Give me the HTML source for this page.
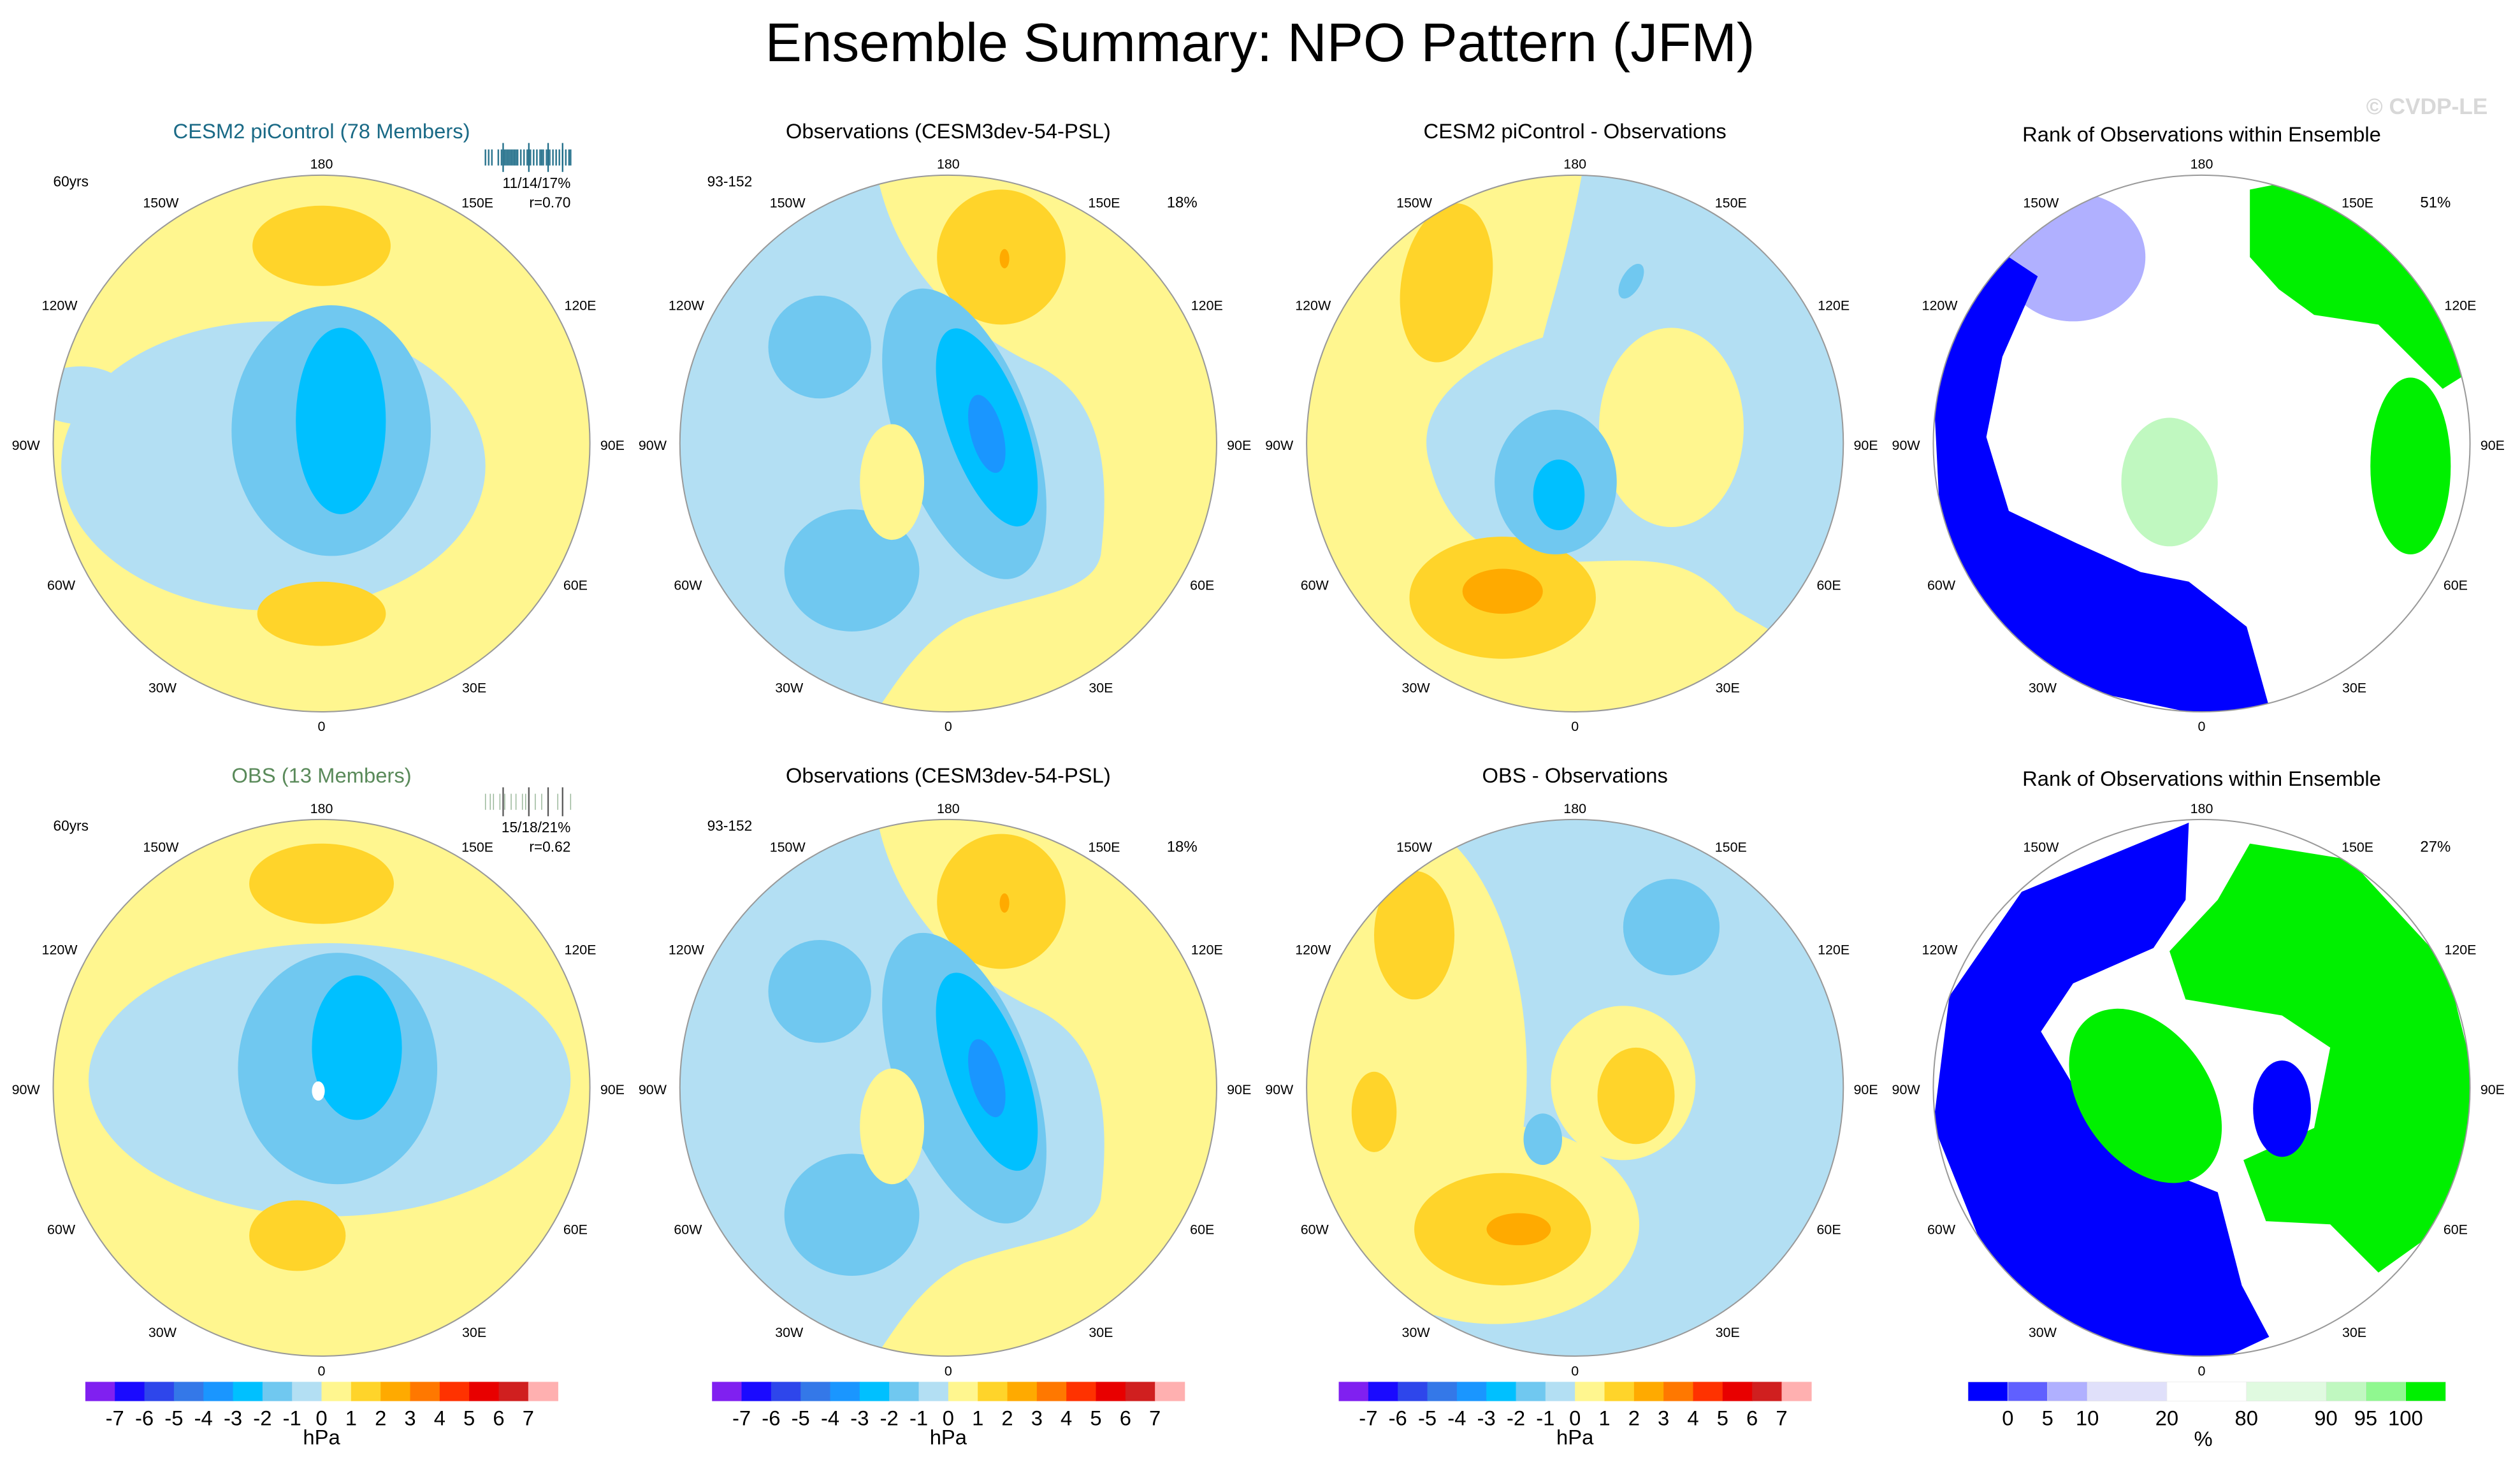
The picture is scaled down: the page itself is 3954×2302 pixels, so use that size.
<!DOCTYPE html>
<html><head><meta charset="utf-8"><style>
html,body{margin:0;padding:0;background:#fff;}
svg{display:block;font-family:"Liberation Sans",sans-serif;}
</style></head><body>
<svg id="fig" width="3954" height="2302" viewBox="0 0 1568 913" xmlns="http://www.w3.org/2000/svg">
<text x="784" y="38" font-size="34" text-anchor="middle">Ensemble Summary: NPO Pattern (JFM)</text>
<text x="1548" y="71" font-size="14" text-anchor="end" fill="#d8d8d8" font-weight="bold">© CVDP-LE</text>
<g id="panels"></g>
</svg>
<script>
const NS='http://www.w3.org/2000/svg';
const fig=document.getElementById('panels');
const hpaLabels=['-7','-6','-5','-4','-3','-2','-1','0','1','2','3','4','5','6','7'];
const hpaColors=['#8020f0','#1a0aff','#2e46eb','#3478e8','#1a96ff','#00c0ff','#70c8f0','#b3dff3','#fff68f','#ffd42a','#ffaa00','#ff7800','#ff3200','#e80000','#d01f1f','#ffb0b0'];
const rankLabels=['0','5','10','20','80','90','95','100'];
const rankEdges=[0,1,2,3,5,7,9,10,11,12];
const rankColors=['#0000ff','#6060ff','#b0b0ff','#e0e0fa','#ffffff','#e0fae0','#c0f8c0','#90f890','#00f000'];
const lonLabels=[['180',0,-174],['150W',-100,-150],['150E',97,-150],['120W',-163,-86],['120E',161,-86],['90W',-184,1],['90E',181,1],['60W',-162,88],['60E',158,88],['30W',-99,152],['30E',95,152],['0',0,176]];
const colX=[200,590,980,1370];
const rowY=[276,677];
const R=167;
function el(tag,attrs,parent){const e=document.createElementNS(NS,tag);for(const k in attrs)e.setAttribute(k,attrs[k]);(parent||fig).appendChild(e);return e;}
function txt(x,y,s,size,anchor,fill,parent){const t=el('text',{x:x,y:y,'font-size':size,'text-anchor':anchor||'middle',fill:fill||'#000'},parent);t.textContent=s;return t;}
const C=hpaColors;
const LB=C[7],MB=C[6],CY=C[5],DB=C[4],YE=C[8],OR=C[9],DO=C[10];
const panels=[
 {r:0,c:0,title:'CESM2 piControl (78 Members)',tc:'#1a6a86',base:YE,left:'60yrs',shapes:[
  ['e',-30,14,132,90,0,LB],['e',-150,-30,30,18,0,LB],['e',6,-8,62,78,0,MB],['e',12,-14,28,58,0,CY],['e',0,-123,43,25,0,OR],['e',0,106,40,20,0,OR]]},
 {r:0,c:1,title:'Observations (CESM3dev-54-PSL)',base:LB,left:'93-152',pct:'18%',shapes:[
  ['p','M545,105 C555,160 590,200 640,225 C690,245 690,300 685,345 C680,370 640,370 600,385 C570,400 555,430 540,450 L760,450 L760,105 Z',YE],
  ['e',33,-116,40,42,0,OR],['e',35,-115,3,6,0,DO],['e',-80,-60,32,32,0,MB],['e',-60,79,42,38,0,MB],['e',10,-6,42,95,-20,MB],['e',24,-10,24,65,-20,CY],['e',24,-6,10,25,-15,DB],['e',-35,24,20,36,0,YE]]},
 {r:0,c:2,title:'CESM2 piControl - Observations',base:YE,shapes:[
  ['p','M985,105 C975,160 965,190 960,210 C900,230 880,260 890,290 C900,330 930,350 960,350 C1020,350 1050,340 1080,380 L1150,420 L1150,105 Z',LB],
  ['e',60,-10,45,62,0,YE],['e',-80,-100,28,50,10,OR],['e',-45,96,58,38,0,OR],['e',-45,92,25,14,0,DO],['e',-12,24,38,45,0,MB],['e',-10,32,16,22,0,CY],['e',35,-101,6,12,30,MB]]},
 {r:0,c:3,title:'Rank of Observations within Ensemble',rank:true,base:'#ffffff',pct:'51%',shapes:[
  ['e',-80,-116,45,40,0,rankColors[2]],
  ['p','M1203,240 L1215,200 L1250,160 L1268,172 L1246,222 L1236,272 L1250,318 L1292,338 L1332,356 L1362,362 L1398,390 L1412,440 L1370,445 L1300,430 L1240,390 L1208,340 Z',rankColors[0]],
  ['p','M1400,118 L1440,110 L1500,128 L1526,170 L1536,232 L1520,242 L1480,202 L1440,196 L1418,180 L1400,160 Z',rankColors[8]],
  ['e',130,14,25,55,0,rankColors[8]],['e',-20,24,30,40,0,rankColors[6]]]},
 {r:1,c:0,title:'OBS (13 Members)',tc:'#5a8a5a',base:YE,left:'60yrs',shapes:[
  ['e',5,-5,150,85,0,LB],['e',10,-12,62,72,0,MB],['e',22,-25,28,45,0,CY],['e',0,-127,45,25,0,OR],['e',-15,92,30,22,0,OR],['e',-2,2,4,6,0,'#fff']]},
 {r:1,c:1,title:'Observations (CESM3dev-54-PSL)',base:LB,left:'93-152',pct:'18%',shapes:[
  ['p','M545,506 C555,561 590,601 640,626 C690,646 690,701 685,746 C680,771 640,771 600,786 C570,801 555,831 540,851 L760,851 L760,506 Z',YE],
  ['e',33,-116,40,42,0,OR],['e',35,-115,3,6,0,DO],['e',-80,-60,32,32,0,MB],['e',-60,79,42,38,0,MB],['e',10,-6,42,95,-20,MB],['e',24,-10,24,65,-20,CY],['e',24,-6,10,25,-15,DB],['e',-35,24,20,36,0,YE]]},
 {r:1,c:2,title:'OBS - Observations',base:LB,shapes:[
  ['e',-115,-10,85,160,0,YE],['e',-50,85,90,62,0,YE],['e',-100,-95,25,40,0,OR],['e',-45,88,55,35,0,OR],['e',-35,88,20,10,0,DO],
  ['e',30,-3,45,48,0,YE],['e',38,5,24,30,0,OR],['e',60,-100,30,30,0,MB],['e',-20,32,12,16,0,MB],['e',-125,15,14,25,0,OR]]},
 {r:1,c:3,title:'Rank of Observations within Ensemble',rank:true,base:'#ffffff',pct:'27%',shapes:[
  ['p','M1362,512 L1360,560 L1340,590 L1290,612 L1270,642 L1300,692 L1330,722 L1380,742 L1395,800 L1412,832 L1380,847 L1300,837 L1240,792 L1203,700 L1213,620 L1258,555 Z',rankColors[0]],
  ['p','M1400,525 L1462,535 L1522,600 L1542,680 L1522,762 L1480,792 L1450,762 L1410,760 L1396,722 L1440,702 L1450,652 L1420,632 L1360,622 L1350,592 L1380,560 Z',rankColors[8]],
  ['e',-35,5,40,60,-35,rankColors[8]],['e',50,13,18,30,0,rankColors[0]]]}
];
panels.forEach((P,i)=>{
 const cx=colX[P.c],cy=rowY[P.r];
 const g=el('g',{});
 
 
 const cp=el('clipPath',{id:'cp'+i},g);el('circle',{cx:cx,cy:cy,r:R},cp);
 const mg=el('g',{'clip-path':'url(#cp'+i+')'},g);
 el('rect',{x:cx-R,y:cy-R,width:2*R,height:2*R,fill:P.base},mg);
 P.shapes.forEach(s=>{
  let m;
  if(s[0]==='e'){m=el('ellipse',{cx:cx+s[1],cy:cy+s[2],rx:s[3],ry:s[4],fill:s[6],transform:'rotate('+s[5]+' '+(cx+s[1])+' '+(cy+s[2])+')'},mg);}
  else{m=el('path',{d:s[1],fill:s[2]},mg);}
  
  
 });
 const ring=el('circle',{cx:cx,cy:cy,r:R,fill:'none',stroke:'#999','stroke-width':0.8},g);
 
 
 const tt=txt(cx,cy+(P.rank?-188:-190),P.title,13,'middle',P.tc||'#000',g);
 
 
 lonLabels.forEach(L=>{const t=txt(cx+L[1],cy+L[2]+3,L[0],8.5,'middle','#000',g);
  
  });
 if(P.left){const t=txt(cx-(P.c===0?167:150),cy-160,P.left,9,'start','#000',g);
  
  }
 if(P.pct){const t=txt(cx+155,cy-147,P.pct,9.5,'end','#000',g);
  
  }
 if(P.c===0){
  const bc=P.r===0?'#1a6a86':'#5a8a5a';
  const ticks=P.r===0?[0,2,4,8,10,12,13,14,15,16,17,18,19,20,22,24,26,28,30,32,34,35,36,38,40,42,44,46,48,50,52,53]:[0,3,5,9,12,16,19,23,25,31,35,45,53];
  ticks.forEach(t=>{const ln=el('line',{x1:302+t,x2:302+t,y1:93,y2:103,stroke:bc,'stroke-width':P.r===0?1:0.6,transform:'translate(0,'+(cy-276)+')',opacity:P.r===0?0.9:0.6},g);
   
   });
  [11,27,39,48].forEach(t=>{const ln=el('line',{x1:302+t,x2:302+t,y1:89,y2:107,stroke:P.r===0?'#1a6a86':'#555','stroke-width':0.9,transform:'translate(0,'+(cy-276)+')'},g);
   
   });
  const a=txt(cx+155,cy-159,P.r===0?'11/14/17%':'15/18/21%',9,'end','#000',g);
  
  
  const b=txt(cx+155,cy-147,P.r===0?'r=0.70':'r=0.62',9,'end','#000',g);
  
  
 }
});
[0,1,2].forEach(c=>{
 const x0=colX[c]-147,w=294/16;
 const g=el('g',{});
 
 
 hpaColors.forEach((col,k)=>{const r=el('rect',{x:x0+k*w,y:860,width:w+0.3,height:12,fill:col},g);
  
  });
 hpaLabels.forEach((s,k)=>{const t=txt(x0+(k+1)*w,887,s,13,'middle','#000',g);
  
  });
 const u=txt(colX[c],899,'hPa',13,'middle','#000',g);
 
 
});
{
 const x0=1224.6,w=(1521.6-1224.6)/12;
 const g=el('g',{});
 
 
 rankColors.forEach((col,k)=>{const r=el('rect',{x:x0+rankEdges[k]*w,y:860,width:(rankEdges[k+1]-rankEdges[k])*w+0.3,height:12,fill:col,stroke:'#e8e8e8','stroke-width':0.3},g);
  
  });
 rankLabels.forEach((s,k)=>{const t=txt(x0+rankEdges[k+1]*w,887,s,13,'middle','#000',g);
  
  });
 const u=txt(1371,900,'%',13,'middle','#000',g);
 
 
}
</script>
</body></html>
